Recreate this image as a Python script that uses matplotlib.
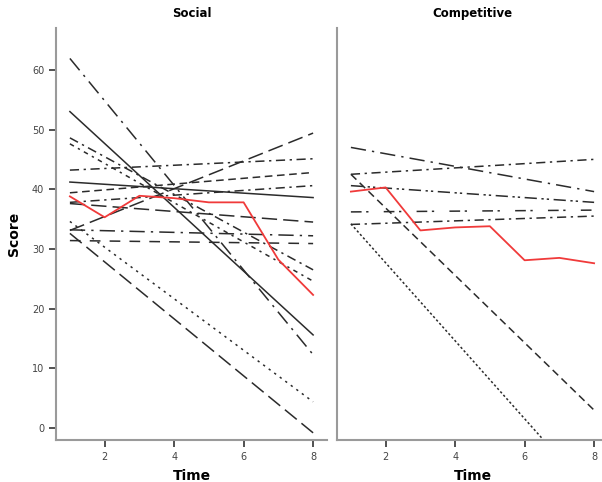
import matplotlib.pyplot as plt

# time points
time = [1, 2, 3, 4, 5, 6, 7, 8]

# fitted lines per person: value at time 1 and at time 8
social_start = [61.9, 53.0, 48.6, 47.6, 33.1, 43.2, 39.4, 37.8, 41.2, 37.6, 33.2, 31.4, 34.6, 32.6]
social_end = [12.3, 15.6, 26.5, 24.6, 49.4, 45.1, 42.8, 40.6, 38.6, 34.5, 32.2, 30.9, 4.4, -0.8]
comp_start = [47.0, 42.5, 40.6, 36.2, 34.1, 42.5, 34.2]
comp_end = [39.6, 45.0, 37.8, 36.5, 35.5, 3.0, -11.5]

# group mean (red)
social_mean = [38.8, 35.3, 38.9, 38.5, 37.8, 37.8, 28.2, 22.3]
comp_mean = [39.6, 40.3, 33.1, 33.6, 33.8, 28.1, 28.5, 27.6]

# line styles
LDD = (0, (10, 4, 1.5, 4))
SOLID = '-'
DD = (0, (6, 3, 1.5, 3))
DOTDASH = (0, (3, 3, 1.5, 3))
LONG = (0, (10, 4))
DASH = (0, (5, 3))
BIG = (0, (7, 6))
DOT = (0, (1.5, 3))
DDD = (0, (8, 3, 1.5, 2, 1.5, 3))
SPARSE = (0, (7, 3, 1.5, 10))

social_styles = [LDD, SOLID, DD, DOTDASH, LONG, DD, DASH, DD, SOLID, LONG, LDD, BIG, DOT, LONG]
comp_styles = [LDD, DD, DDD, SPARSE, DD, DASH, (0, (1.5, 1.5))]

fig = plt.figure(figsize=(6.02, 4.82), dpi=100)
W, H = 602, 482
bottom = 1 - 440 / H
height = (440 - 28) / H
ax1 = fig.add_axes([56 / W, bottom, 271 / W, height])
ax2 = fig.add_axes([337 / W, bottom, 271 / W, height])

line_col = '#2b2b2b'
red = '#f03a3a'


def draw(ax, starts, ends, styles, mean, title):
    for s, e, ls in zip(starts, ends, styles):
        ax.plot([time[0], time[-1]], [s, e], color=line_col, lw=1.1, ls=ls)
    ax.plot(time, mean, color=red, lw=1.3)
    ax.set_xlim(0.6, 8.4)
    ax.set_ylim(-2, 67)
    ax.set_xticks([2, 4, 6, 8])
    ax.set_title(title, fontsize=8.5, fontweight='bold', pad=8)
    ax.set_xlabel('Time', fontsize=10, fontweight='bold', labelpad=5)
    for sp in ['top', 'right']:
        ax.spines[sp].set_visible(False)
    for sp in ['left', 'bottom']:
        ax.spines[sp].set_color('#9a9a9a')
        ax.spines[sp].set_linewidth(1.5)
    ax.tick_params(colors='#333333', labelsize=7, length=5, width=1.2, labelcolor='#444444')


draw(ax1, social_start, social_end, social_styles, social_mean, 'Social')
draw(ax2, comp_start, comp_end, comp_styles, comp_mean, 'Competitive')

ax1.set_yticks([0, 10, 20, 30, 40, 50, 60])
ax1.set_ylabel('Score', fontsize=10, fontweight='bold', labelpad=8)
ax2.set_yticks([])

fig.savefig('out.png', dpi=100)
